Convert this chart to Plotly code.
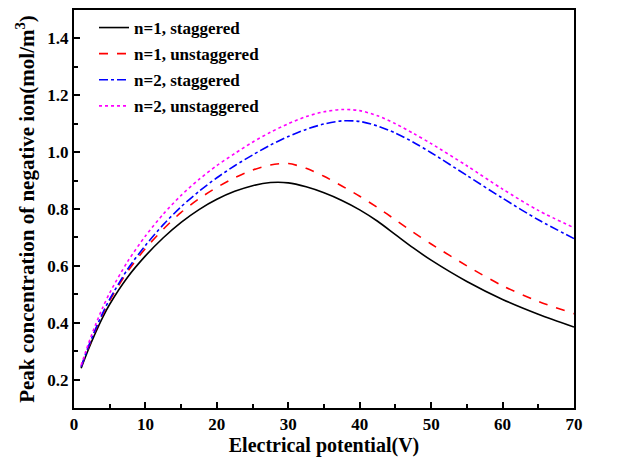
import plotly.graph_objects as go

# Electrical potential (V)
potential = [1, 2, 3, 4, 5, 7.5, 10, 12.5, 15, 17.5, 20, 22.5, 25, 27.5, 30,
             32.5, 35, 37.5, 40, 42.5, 45, 47.5, 50, 55, 60, 65, 70]

# Peak negative-ion concentration (mol/m^3) for each configuration
n1_staggered = [0.24, 0.305, 0.364, 0.418, 0.465, 0.56, 0.635, 0.699, 0.753, 0.798,
                0.834, 0.862, 0.882, 0.893, 0.892, 0.878, 0.857, 0.83, 0.797, 0.757,
                0.71, 0.663, 0.62, 0.545, 0.482, 0.43, 0.385]
n1_unstaggered = [0.245, 0.312, 0.374, 0.429, 0.478, 0.58, 0.661, 0.729, 0.788, 0.836,
                  0.876, 0.91, 0.937, 0.955, 0.96, 0.943, 0.915, 0.881, 0.845, 0.805,
                  0.762, 0.718, 0.677, 0.6, 0.53, 0.475, 0.432]
n2_staggered = [0.245, 0.315, 0.377, 0.433, 0.483, 0.588, 0.672, 0.745, 0.808, 0.862,
                0.91, 0.952, 0.99, 1.025, 1.055, 1.08, 1.099, 1.11, 1.108, 1.092,
                1.067, 1.035, 0.998, 0.918, 0.838, 0.762, 0.696]
n2_unstaggered = [0.25, 0.325, 0.392, 0.452, 0.505, 0.615, 0.705, 0.782, 0.848, 0.904,
                  0.953, 0.995, 1.035, 1.07, 1.10, 1.125, 1.142, 1.15, 1.146, 1.128,
                  1.1, 1.066, 1.03, 0.952, 0.87, 0.795, 0.734]

series = [
    ("n=1, staggered", n1_staggered, "black", "solid"),
    ("n=1, unstaggered", n1_unstaggered, "#ff0000", "dash"),
    ("n=2, staggered", n2_staggered, "#0000ff", "dashdot"),
    ("n=2, unstaggered", n2_unstaggered, "#ff00ff", "dot"),
]

FONT = "Liberation Serif"

fig = go.Figure()
for i, (name, values, color, dash) in enumerate(series):
    fig.add_trace(go.Scatter(
        x=potential, y=values, name=name, mode="lines", legendgroup=f"g{i}",
        line=dict(color=color, width=1.6, dash=dash, shape="spline", smoothing=0.8),
    ))

axis_common = dict(
    showline=True, linewidth=2, linecolor="black", mirror=True,
    ticks="inside", ticklen=6, tickwidth=2, tickcolor="black",
    showgrid=False, zeroline=False,
    tickfont=dict(family=FONT, size=17, color="black", weight="bold"),
)

fig.update_xaxes(
    range=[0, 70], dtick=10, tick0=0,
    minor=dict(ticks="inside", ticklen=4, tickwidth=2, tickcolor="black", dtick=5),
    title=dict(text="Electrical potential(V)", standoff=5,
               font=dict(family=FONT, size=20, color="black", weight="bold")),
    **axis_common,
)
fig.update_yaxes(
    range=[0.1, 1.5], dtick=0.2, tick0=0.2, tickformat=".1f",
    minor=dict(ticks="inside", ticklen=4, tickwidth=2, tickcolor="black", dtick=0.1),
    title=dict(text="Peak concentration of negative ion(mol/m<sup>3</sup>)", standoff=7,
               font=dict(family=FONT, size=21, color="black", weight="bold")),
    **axis_common,
)

fig.update_layout(
    width=626, height=471,
    margin=dict(l=74, r=52, t=8, b=63),
    paper_bgcolor="white", plot_bgcolor="white",
    font=dict(family=FONT, color="black"),
    legend=dict(
        x=0.04, y=1.0, xanchor="left", yanchor="top",
        bgcolor="rgba(0,0,0,0)", borderwidth=0,
        font=dict(family=FONT, size=17, color="black", weight="bold"),
        tracegroupgap=1,
    ),
)

fig.write_html("out.html")
